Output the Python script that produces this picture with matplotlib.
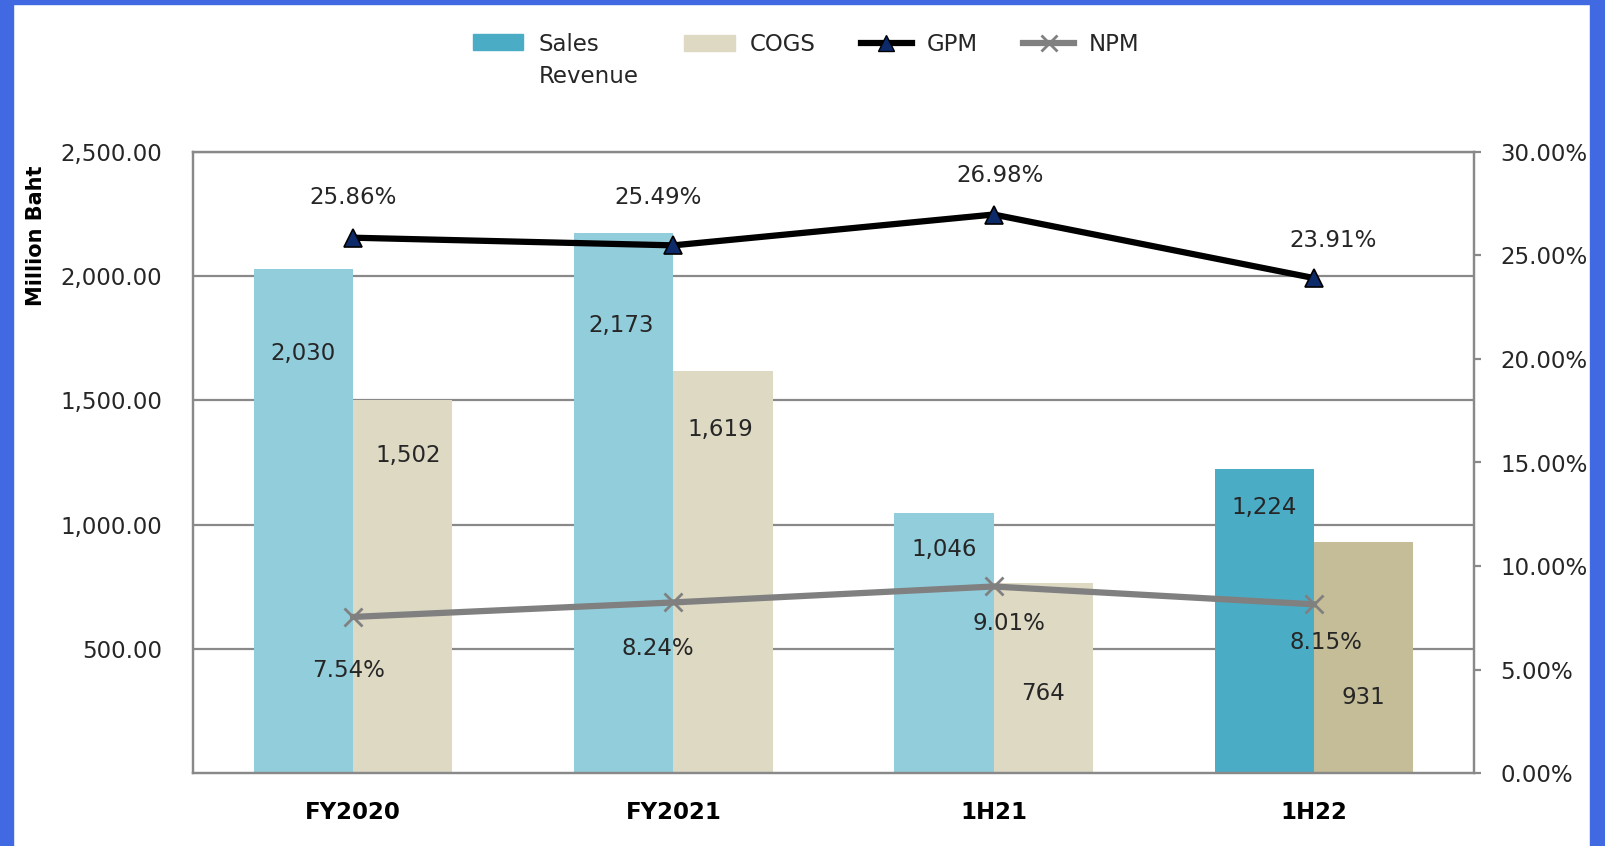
import numpy as np
import matplotlib.pyplot as plt
from matplotlib.patches import Patch, Rectangle
from matplotlib.lines import Line2D
from matplotlib.legend_handler import HandlerPatch
from matplotlib.ticker import FuncFormatter

plt.rcParams['font.family'] = ['DejaVu Sans']

periods = ['FY2020', 'FY2021', '1H21', '1H22']
sales = [2030, 2173, 1046, 1224]
cogs = [1502, 1619, 764, 931]
gpm = [25.86, 25.49, 26.98, 23.91]
npm = [7.54, 8.24, 9.01, 8.15]

# label nudges in pixels (dx, dy)
sales_off = [(0, -85), (-3, -92), (0, -36), (0, -39)]
cogs_off = [(5, -56), (-3, -59), (0, -110), (0, -156)]
gpm_off = [(0, 40), (-15, 48), (6, 39), (19, 38)]
npm_off = [(-5, -54), (-16, -46), (15, -37), (12, -38)]

sales_light, sales_dark = '#92CDDC', '#4BACC6'
cogs_light, cogs_dark = '#DDD9C3', '#C4BD97'
grid_c = '#898989'
txt = '#262626'
fs = 16.5

fig = plt.figure(figsize=(16.06, 8.46), dpi=100)
ax = fig.add_axes([193/1606, 73/846, (1474-193)/1606, (773-152)/846])
ax2 = ax.twinx()

x = np.arange(len(periods))
w = 0.31
sc = [sales_light]*3 + [sales_dark]
cc = [cogs_light]*3 + [cogs_dark]
ax.bar(x - w/2, sales, w, color=sc, zorder=2)
ax.bar(x + w/2, cogs, w, color=cc, zorder=2)

for xi, v, off in zip(x - w/2, sales, sales_off):
    ax.annotate(f'{v:,}', (xi, v), xytext=off, textcoords='offset pixels',
                ha='center', va='center', fontsize=fs, color=txt)
for xi, v, off in zip(x + w/2, cogs, cogs_off):
    ax.annotate(f'{v:,}', (xi, v), xytext=off, textcoords='offset pixels',
                ha='center', va='center', fontsize=fs, color=txt)

ax.set_xlim(-0.5, 3.5)
ax.set_ylim(0, 2500)
ax.set_yticks([500, 1000, 1500, 2000, 2500])
ax.yaxis.set_major_formatter(FuncFormatter(lambda v, p: f'{v:,.2f}'))
ax.grid(axis='y', color=grid_c, lw=1.6, zorder=0)
ax.set_axisbelow(True)
ax.set_xticks(x)
ax.set_xticklabels(periods, fontsize=fs, fontweight='bold', color='black')
ax.tick_params(axis='x', length=0, pad=20)
ax.tick_params(axis='y', length=0, pad=22, labelsize=fs, labelcolor=txt)
ax.set_ylabel('Million Baht', fontsize=15, fontweight='bold')
ax.yaxis.set_label_coords(-0.115, 0.865)

for s in list(ax.spines.values()) + list(ax2.spines.values()):
    s.set_color(grid_c)
    s.set_linewidth(1.6)

ax2.plot(x, gpm, color='black', lw=4.5, marker='^', ms=13,
         mfc='#0D2A6B', mec='black', mew=1.2, zorder=4)
ax2.plot(x, npm, color='#808080', lw=4.5, marker='x', ms=13,
         mew=2, zorder=4)
for xi, v, off in zip(x, gpm, gpm_off):
    ax2.annotate(f'{v:.2f}%', (xi, v), xytext=off, textcoords='offset pixels',
                 ha='center', va='center', fontsize=fs, color=txt)
for xi, v, off in zip(x, npm, npm_off):
    ax2.annotate(f'{v:.2f}%', (xi, v), xytext=off, textcoords='offset pixels',
                 ha='center', va='center', fontsize=fs, color=txt)

ax2.set_ylim(0, 30)
ax2.set_yticks(np.arange(0, 31, 5))
ax2.yaxis.set_major_formatter(FuncFormatter(lambda v, p: f'{v:.2f}%'))
ax2.tick_params(axis='y', length=5, width=1.6, color=grid_c, pad=14,
                labelsize=fs, labelcolor=txt)


def raised_patch(legend, orig_handle, xdescent, ydescent, width, height,
                 fontsize):
    # keep the swatch level with the first line of a two-line label
    return Rectangle((-xdescent, -ydescent + 0.88 * fontsize), width, height)


handles = [
    Patch(color=sales_dark, label='Sales\nRevenue'),
    Patch(color=cogs_light, label='COGS'),
    Line2D([], [], color='black', lw=4.5, marker='^', ms=11,
           mfc='#0D2A6B', mec='black', label='GPM'),
    Line2D([], [], color='#808080', lw=4.5, marker='x', ms=11, mew=2,
           label='NPM'),
]
leg = fig.legend(handles=handles, loc='upper center', ncol=4,
                 bbox_to_anchor=(0.502, 0.985), frameon=False, fontsize=fs,
                 handlelength=2.2, handleheight=0.7, columnspacing=2.0,
                 handletextpad=0.65,
                 handler_map={handles[0]: HandlerPatch(patch_func=raised_patch)})
for t in leg.get_texts():
    t.set_color(txt)
    t.set_linespacing(1.5)
# line the single-line entries up with the top row
leg._legend_handle_box.align = 'top'

# blue frame around the slide
border = '#4169E1'
fig.patches.append(Rectangle((0, 0), 13/1606, 1, transform=fig.transFigure,
                             color=border, zorder=10))
fig.patches.append(Rectangle((1590/1606, 0), 16/1606, 1,
                             transform=fig.transFigure, color=border, zorder=10))
fig.patches.append(Rectangle((0, 1 - 4/846), 1, 4/846,
                             transform=fig.transFigure, color=border, zorder=10))

fig.savefig('out.png', dpi=100, facecolor='white')
